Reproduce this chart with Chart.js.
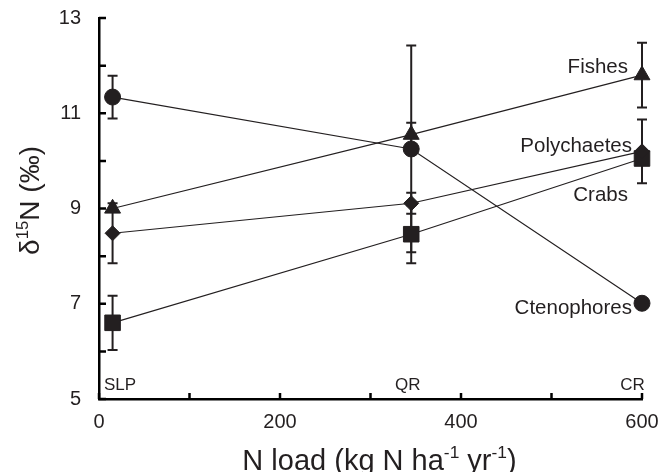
<!DOCTYPE html>
<html lang="en">
<head>
  <meta charset="UTF-8"/>
  <title>δ15N vs N load</title>
  <script src="https://cdn.jsdelivr.net/npm/chart.js@4.4.1/dist/chart.umd.min.js"></script>
  <style>
    html, body { margin: 0; padding: 0; background: #fff; }
    canvas { display: block; }
  </style>
</head>
<body>
  <canvas id="chart" width="661" height="472"></canvas>
  <script>
    // N load at each site (kg N ha-1 yr-1)
    const siteNames = ['SLP', 'QR', 'CR'];
    const nLoad = [15, 345, 600];

    // mean δ15N and ± error per group
    const ctenophores    = [11.34, 10.25, 7.01];
    const ctenophoresErr = [0.45, 2.17, 0];
    const fishes         = [9.0, 10.55, 11.8];
    const fishesErr      = [0, 0.25, 0.68];
    const polychaetes    = [8.48, 9.11, 10.2];
    const polychaetesErr = [0.63, 0.22, 0.67];
    const crabs          = [6.6, 8.46, 10.05];
    const crabsErr       = [0.57, 0.61, 0];

    const xTickLabels = [0, 200, 400, 600];
    const yTickLabels = [5, 7, 9, 11, 13];

    const ink = '#231f20';
    const family = '"Liberation Sans", Arial, Helvetica, sans-serif';

    function series(name, vals, errs, style, radius) {
      return {
        label: name,
        data: nLoad.map((x, i) => ({ x, y: vals[i] })),
        errors: errs,
        borderColor: ink,
        borderWidth: 1.2,
        pointStyle: style,
        pointRadius: radius,
        pointBackgroundColor: ink,
        pointBorderColor: ink,
        pointBorderWidth: 1,
        fill: false,
        clip: false,
        tension: 0
      };
    }

    const errorBars = {
      id: 'errorBars',
      beforeDatasetsDraw(chart) {
        const { ctx, scales: { x, y } } = chart;
        ctx.save();
        ctx.strokeStyle = ink;
        ctx.lineWidth = 2;
        chart.data.datasets.forEach(ds => {
          ds.data.forEach((p, i) => {
            const e = ds.errors[i];
            if (!e) return;
            const px = x.getPixelForValue(p.x);
            const top = y.getPixelForValue(p.y + e);
            const bot = y.getPixelForValue(p.y - e);
            ctx.beginPath();
            ctx.moveTo(px, top); ctx.lineTo(px, bot);
            ctx.moveTo(px - 5, top); ctx.lineTo(px + 5, top);
            ctx.moveTo(px - 5, bot); ctx.lineTo(px + 5, bot);
            ctx.stroke();
          });
        });
        ctx.restore();
      }
    };

    // draws text pieces, some as superscripts
    function richWidth(ctx, parts, size) {
      let w = 0;
      parts.forEach(p => {
        ctx.font = (p.sup ? size * 0.6 : size) + 'px ' + family;
        w += ctx.measureText(p.t).width;
      });
      return w;
    }
    function drawRich(ctx, parts, cx, baseY, size) {
      let x = cx - richWidth(ctx, parts, size) / 2;
      ctx.textAlign = 'left';
      ctx.textBaseline = 'alphabetic';
      parts.forEach(p => {
        ctx.font = (p.sup ? size * 0.6 : size) + 'px ' + family;
        ctx.fillText(p.t, x, p.sup ? baseY - size * 0.4 : baseY);
        x += ctx.measureText(p.t).width;
      });
    }

    const decorations = {
      id: 'decorations',
      afterDraw(chart) {
        const { ctx, chartArea: a, scales: { x, y } } = chart;
        ctx.save();
        // inward tick marks
        ctx.strokeStyle = '#000';
        ctx.lineWidth = 2.5;
        ctx.beginPath();
        for (let v = 5; v <= 13; v++) {
          const py = y.getPixelForValue(v);
          ctx.moveTo(a.left, py); ctx.lineTo(a.left + 7, py);
        }
        for (let v = 0; v <= 600; v += 100) {
          const px = x.getPixelForValue(v);
          ctx.moveTo(px, a.bottom); ctx.lineTo(px, a.bottom - 6);
        }
        ctx.stroke();

        ctx.fillStyle = ink;
        // group labels
        ctx.font = '20.5px ' + family;
        ctx.textAlign = 'right';
        ctx.textBaseline = 'alphabetic';
        const xr = x.getPixelForValue(600);
        ctx.fillText('Fishes', xr - 14, y.getPixelForValue(11.85));
        ctx.fillText('Polychaetes', xr - 10, y.getPixelForValue(10.19));
        ctx.fillText('Crabs', xr - 14, y.getPixelForValue(9.16));
        ctx.fillText('Ctenophores', xr - 10, y.getPixelForValue(6.79));

        // site labels
        ctx.font = '17px ' + family;
        const sy = y.getPixelForValue(5.19);
        ctx.textAlign = 'left';
        ctx.fillText(siteNames[0], x.getPixelForValue(5.5), sy);
        ctx.fillText(siteNames[1], x.getPixelForValue(327), sy);
        ctx.textAlign = 'right';
        ctx.fillText(siteNames[2], x.getPixelForValue(603), sy);

        // axis titles
        drawRich(ctx, [
          { t: 'N load (kg N ha' }, { t: '-1', sup: true },
          { t: ' yr' }, { t: '-1', sup: true }, { t: ')' }
        ], (a.left + a.right) / 2 + 9, 470, 29);

        ctx.save();
        ctx.translate(39, (a.top + a.bottom) / 2 - 8);
        ctx.rotate(-Math.PI / 2);
        drawRich(ctx, [
          { t: 'δ' }, { t: '15', sup: true }, { t: 'N (‰)' }
        ], 0, 0, 28);
        ctx.restore();
        ctx.restore();
      }
    };

    new Chart(document.getElementById('chart'), {
      type: 'line',
      data: {
        datasets: [
          series('Ctenophores', ctenophores, ctenophoresErr, 'circle', 8),
          series('Fishes', fishes, fishesErr, 'triangle', 9.2),
          series('Polychaetes', polychaetes, polychaetesErr, 'rectRot', 7.5),
          series('Crabs', crabs, crabsErr, 'rect', 11)
        ]
      },
      options: {
        responsive: false,
        animation: false,
        layout: { padding: { top: 18, right: 19, left: 0, bottom: 0 } },
        plugins: {
          legend: { display: false },
          tooltip: { enabled: false }
        },
        scales: {
          x: {
            type: 'linear',
            min: 0, max: 600,
            afterFit: s => { s.height = 73; s.paddingLeft = 0; s.paddingRight = 0; },
            grid: { display: false, drawTicks: false },
            border: { display: true, color: '#000', width: 2.5 },
            ticks: {
              stepSize: 100,
              padding: 11,
              color: ink,
              font: { family, size: 20 },
              callback: v => xTickLabels.includes(v) ? v : ''
            }
          },
          y: {
            min: 5, max: 13,
            afterFit: s => { s.width = 99; s.paddingTop = 0; s.paddingBottom = 0; },
            grid: { display: false, drawTicks: false },
            border: { display: true, color: '#000', width: 2.5 },
            ticks: {
              stepSize: 1,
              padding: 18,
              color: ink,
              font: { family, size: 20 },
              callback: v => yTickLabels.includes(v) ? v : ''
            }
          }
        }
      },
      plugins: [errorBars, decorations]
    });
  </script>
</body>
</html>
